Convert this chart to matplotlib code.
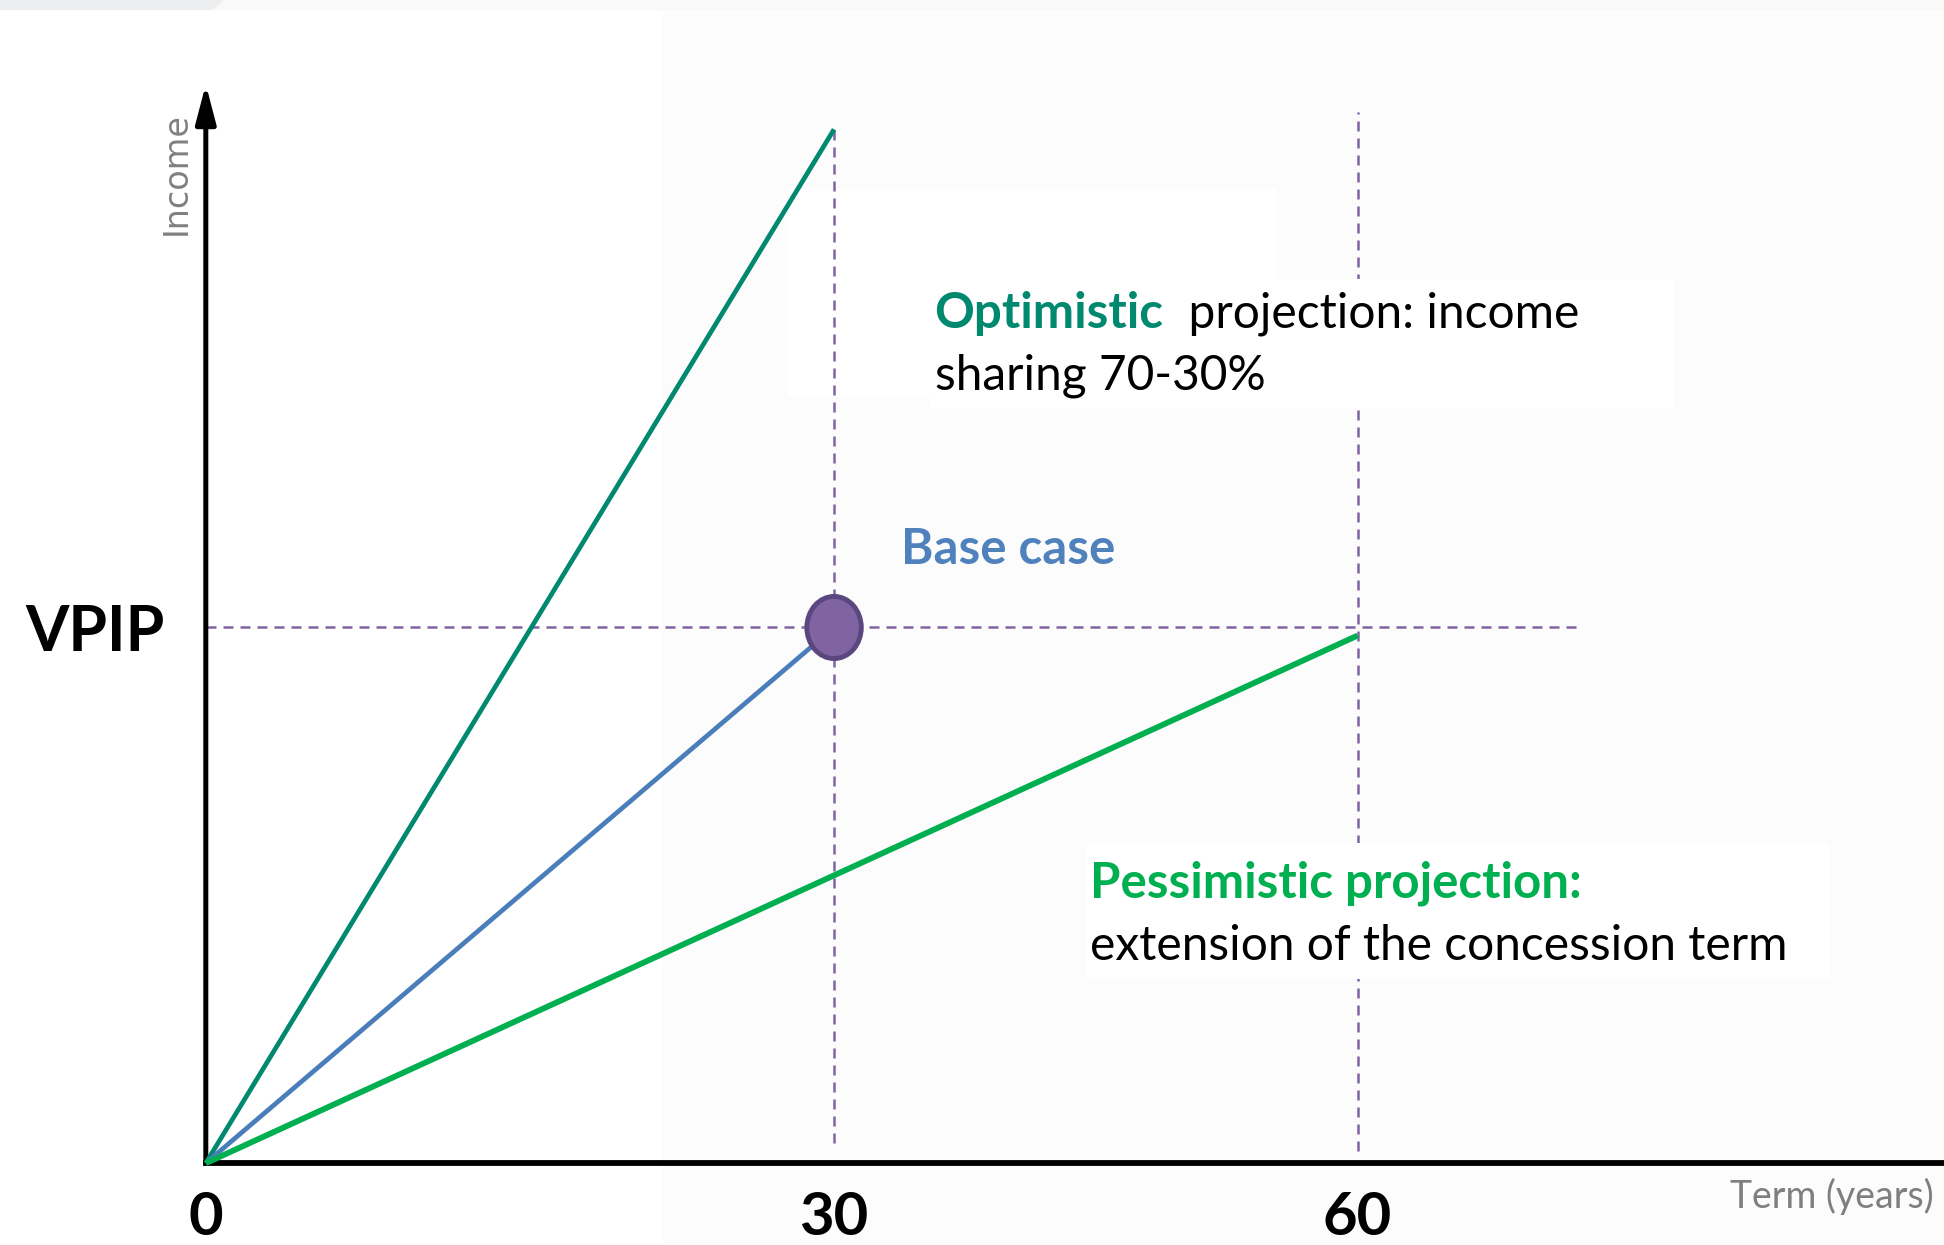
import matplotlib.pyplot as plt
from matplotlib.patches import Rectangle, Ellipse, Polygon

plt.rcParams['font.family'] = ['Lato', 'DejaVu Sans']

# schematic term axis: where each milestone sits and its label
term_pos = [0, 30, 55]
term_labels = ['0', '30', '60']

vpip = 1.0

# income paths (schematic units, VPIP = 1)
optimistic_x = [0, 30]
optimistic_y = [0, 1.93]
base_x = [0, 30]
base_y = [0, 1.0]
pessimistic_x = [0, 55]
pessimistic_y = [0, 0.985]

# dashed guide lines
guide_x = [30, 55]
guide_bottom = [0.037, 0.023]
guide_top = [1.93, 1.963]
vpip_guide_end = 65.7

TEAL = '#00896F'
BLUE = '#4F81BD'
GREEN = '#00B050'
PURPLE = '#8064A2'

fig = plt.figure(figsize=(19.44, 12.45), dpi=100, facecolor='white')

# slide background bits
fig.patches.append(Rectangle((663 / 1944, 0), 1, 1 - 10 / 1245, transform=fig.transFigure,
                             fc='#FCFCFC', ec='none', zorder=-2))
fig.patches.append(Rectangle((0, 1 - 10 / 1245), 1, 10 / 1245, transform=fig.transFigure,
                             fc='#F9F9FA', ec='none', zorder=-2))
fig.patches.append(Polygon([(0, 1 - 10 / 1245), (212 / 1944, 1 - 10 / 1245), (224 / 1944, 1), (0, 1)],
                           closed=True, transform=fig.transFigure, fc='#EDEEF0', ec='none', zorder=-1))

ax = fig.add_axes([166 / 1568, 66 / 1004, 1 - 166 / 1568, 870 / 1004])
ax.set_facecolor('none')
ax.set_xlim(0, 83)
ax.set_ylim(0, 2.014)

for side in ['top', 'right', 'left']:
    ax.spines[side].set_visible(False)
ax.spines['bottom'].set_linewidth(4.2)
ax.spines['bottom'].set_color('black')

# y axis with arrow head
ax.annotate('', xy=(0, 1), xycoords='axes fraction', xytext=(0, 0), textcoords='axes fraction',
            arrowprops=dict(arrowstyle='-|>,head_length=0.65,head_width=0.17', color='black',
                            lw=3.6, mutation_scale=36, shrinkA=0, shrinkB=0))

# text backgrounds
ax.add_patch(Rectangle((27.8, 1.431), 51.1 - 27.8, 1.819 - 1.431, fc='white', ec='none', zorder=1))
ax.add_patch(Rectangle((34.6, 1.407), 70.1 - 34.6, 1.650 - 1.407, fc='white', ec='none', zorder=3))
ax.add_patch(Rectangle((42.1, 0.343), 77.5 - 42.1, 0.597 - 0.343, fc='white', ec='none', zorder=3))

# dashed guides
dash = dict(color=PURPLE, lw=1.8, dashes=(4.0, 2.8), zorder=2)
ax.plot([0, vpip_guide_end], [vpip, vpip], **dash)
for gx, gb, gt in zip(guide_x, guide_bottom, guide_top):
    ax.plot([gx, gx], [gb, gt], **dash)

ax.plot(optimistic_x, optimistic_y, color=TEAL, lw=3.4, zorder=4, clip_on=False,
        solid_capstyle='butt')
ax.plot(base_x, base_y, color='#4A7EBB', lw=3.4, zorder=4, clip_on=False, solid_capstyle='butt')
ax.plot(pessimistic_x, pessimistic_y, color=GREEN, lw=4.2, zorder=4, clip_on=False,
        solid_capstyle='butt')

ax.add_patch(Ellipse((base_x[-1], base_y[-1]), width=2.6, height=0.116, fc=PURPLE,
                     ec='#5A4780', lw=3.5, zorder=6))

ax.set_xticks(term_pos, term_labels, fontsize=43, fontweight='bold')
ax.set_yticks([vpip], ['VPIP'], fontsize=45, fontweight='bold')
ax.tick_params(axis='x', length=0, pad=20)
ax.tick_params(axis='y', length=0, pad=30)

ax.text(-0.0171, 0.917, 'Income', rotation=90, transform=ax.transAxes, ha='center', va='center',
        color='#808080', fontsize=24, family='DejaVu Sans')
ax.text(0.994, -0.031, 'Term (years)', transform=ax.transAxes, ha='right', va='center',
        color='#7F7F7F', fontsize=27)

t1 = ax.text(34.8, 1.586, 'Optimistic', color=TEAL, fontsize=35.5, fontweight='bold',
             ha='left', va='center', zorder=5)
ax.annotate('  projection: income', xy=(1, 0), xycoords=t1, ha='left', va='bottom',
            fontsize=34.5, color='black', zorder=5)
ax.text(34.8, 1.470, 'sharing 70-30%', color='black', fontsize=34.5, ha='left', va='center',
        zorder=5)

ax.text(33.2, 1.146, 'Base case', color=BLUE, fontsize=35.5, fontweight='bold',
        ha='left', va='center', zorder=5)

ax.text(42.2, 0.523, 'Pessimistic projection:', color=GREEN, fontsize=35.5, fontweight='bold',
        ha='left', va='center', zorder=5)
ax.text(42.2, 0.405, 'extension of the concession term', color='black', fontsize=34.5,
        ha='left', va='center', zorder=5)

fig.savefig('out.png', dpi=100)
